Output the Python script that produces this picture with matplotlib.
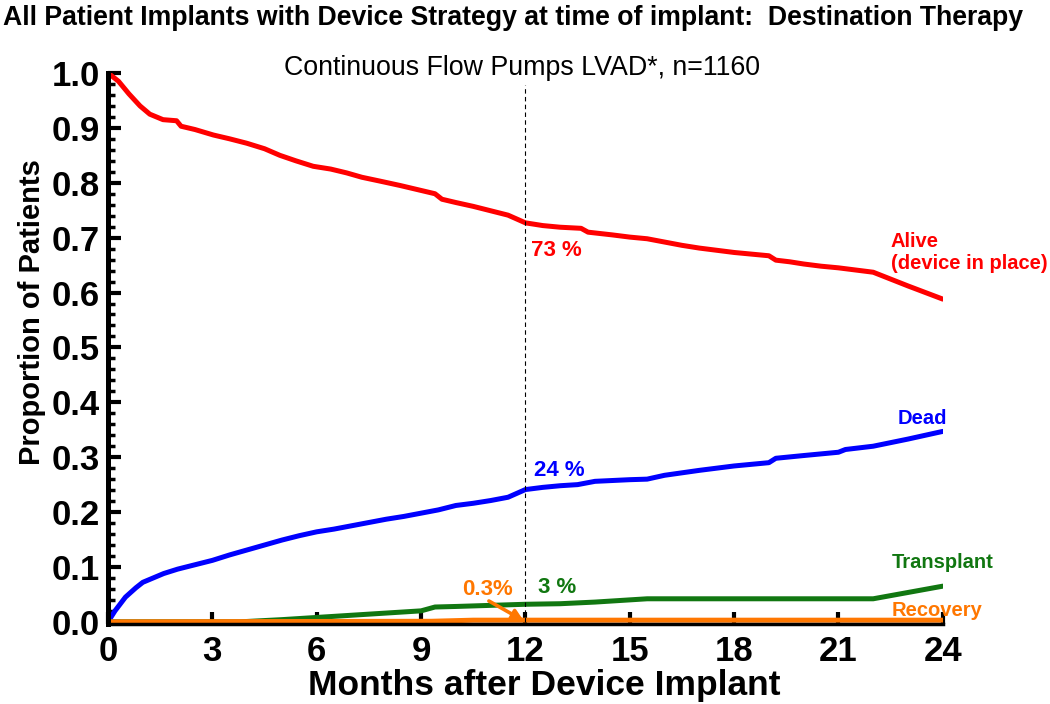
import numpy as np
import matplotlib.pyplot as plt
from matplotlib.ticker import MultipleLocator

plt.rcParams['font.family'] = ['Liberation Sans', 'DejaVu Sans']

# months after implant and proportions
alive_t = [0, 0.3, 0.6, 0.92, 1.2, 1.58, 1.97, 2.1, 2.5, 3.03, 3.5, 3.99, 4.5, 4.94, 5.4, 5.9,
           6.4, 6.86, 7.3, 7.82, 8.4, 9.0, 9.4, 9.6, 10.0, 10.5, 11.0, 11.5, 12.0, 12.5, 13.0,
           13.6, 13.8, 14.5, 15.0, 15.5, 16.0, 16.5, 17.0, 17.5, 18.0, 18.5, 19.0, 19.2,
           19.6, 20.0, 20.5, 21.0, 21.5, 22.0, 23.0, 24.0]
alive_v = [1.0, 0.985, 0.962, 0.940, 0.925, 0.915, 0.913, 0.903, 0.897, 0.887, 0.880, 0.872,
           0.862, 0.850, 0.840, 0.830, 0.825, 0.818, 0.810, 0.803, 0.795, 0.786, 0.780, 0.770,
           0.764, 0.757, 0.749, 0.741, 0.727, 0.722, 0.719, 0.717, 0.710, 0.705, 0.701, 0.698,
           0.692, 0.686, 0.681, 0.677, 0.673, 0.670, 0.667, 0.659, 0.656, 0.652, 0.648, 0.645,
           0.641, 0.637, 0.612, 0.588]

dead_t = [0, 0.2, 0.5, 0.8, 1.0, 1.3, 1.6, 2.0, 2.5, 3.0, 3.5, 4.0, 4.5, 5.0, 5.5, 6.0, 6.5,
          7.0, 7.5, 8.0, 8.5, 9.0, 9.5, 10.0, 10.5, 11.0, 11.5, 12.0, 12.5, 13.0, 13.5, 14.0,
          15.0, 15.5, 16.0, 17.0, 18.0, 19.0, 19.2, 20.0, 21.0, 21.2, 22.0, 23.0, 24.0]
dead_v = [0.0, 0.02, 0.045, 0.062, 0.072, 0.08, 0.088, 0.096, 0.104, 0.112, 0.122, 0.131,
          0.140, 0.149, 0.157, 0.164, 0.169, 0.175, 0.181, 0.187, 0.192, 0.198, 0.204, 0.212,
          0.216, 0.221, 0.227, 0.241, 0.245, 0.248, 0.250, 0.256, 0.259, 0.260, 0.267, 0.276,
          0.284, 0.290, 0.298, 0.303, 0.309, 0.314, 0.320, 0.333, 0.347]

transplant_t = [0, 3.8, 5.0, 6.0, 7.0, 8.0, 9.0, 9.4, 10.0, 11.0, 12.0, 13.0, 14.0, 15.0,
                15.5, 22.0, 24.0]
transplant_v = [0.0, 0.0, 0.004, 0.008, 0.012, 0.016, 0.020, 0.027, 0.028, 0.030, 0.032,
                0.033, 0.036, 0.040, 0.042, 0.042, 0.065]

recovery_t = [0, 9.3, 10.5, 24.0]
recovery_v = [0.0, 0.001, 0.003, 0.003]

red, blue, green, orange = '#ff0000', '#0000ff', '#117711', '#ff7700'

fig = plt.figure(figsize=(10.5, 7.04), dpi=100)
ax = fig.add_axes([0.1029, 0.1136, 0.795, 0.7827])

ax.plot(alive_t, alive_v, color=red, lw=3.6, solid_capstyle='round')
ax.plot(dead_t, dead_v, color=blue, lw=3.6, solid_capstyle='round')
ax.plot(transplant_t, transplant_v, color=green, lw=3.6, solid_capstyle='round')
ax.plot(recovery_t, recovery_v, color=orange, lw=3.6, solid_capstyle='round')
ax.plot([12, 12], [0, 0.978], color='black', lw=0.8, ls=(0, (4, 3)))

ax.set_xlim(0, 24)
ax.set_ylim(-0.004, 1.0)
ax.xaxis.set_major_locator(MultipleLocator(3))
ax.yaxis.set_minor_locator(MultipleLocator(0.02))
ax.set_yticks(np.arange(0, 1.01, 0.1))
ax.set_yticklabels(['%.1f' % v for v in np.arange(0, 1.01, 0.1)])
ax.tick_params(axis='both', which='major', direction='in', length=9, width=3,
               labelsize=25, pad=6)
ax.tick_params(axis='x', which='major', pad=8)
ax.tick_params(axis='y', which='minor', direction='in', length=5, width=2.5)
for lab in ax.get_xticklabels() + ax.get_yticklabels():
    lab.set_fontweight('bold')
ax.spines['top'].set_visible(False)
ax.spines['right'].set_visible(False)
ax.spines['left'].set_linewidth(3.6)
ax.spines['bottom'].set_linewidth(2.5)

ax.set_xlabel('Months after Device Implant', fontsize=25.5, fontweight='bold')
ax.xaxis.set_label_coords(0.522, -0.081)
ax.set_ylabel('Proportion of Patients', fontsize=21, fontweight='bold')
ax.yaxis.set_label_coords(-0.074, 0.566)

fig.text(0.003, 0.975, 'All Patient Implants with Device Strategy at time of implant:  Destination Therapy',
         fontsize=19.2, fontweight='bold', va='center', ha='left')
fig.text(0.497, 0.903, 'Continuous Flow Pumps LVAD*, n=1160', fontsize=19.3, va='center', ha='center')

ax.text(12.15, 0.676, '73 %', color=red, fontsize=16, fontweight='bold', va='center')
ax.text(12.25, 0.276, '24 %', color=blue, fontsize=16, fontweight='bold', va='center')
ax.text(12.35, 0.062, '3 %', color=green, fontsize=16, fontweight='bold', va='center')
ax.text(10.92, 0.058, '0.3%', color=orange, fontsize=16, fontweight='bold', va='center', ha='center')
ax.annotate('', xy=(11.95, 0.002), xytext=(10.95, 0.038),
            arrowprops=dict(arrowstyle='-|>', color=orange, lw=2.6, mutation_scale=16,
                            shrinkA=0, shrinkB=0))
ax.text(22.5, 0.673, 'Alive\n(device in place)', color=red, fontsize=14.5, fontweight='bold',
        va='center', ha='left', linespacing=1.15)
ax.text(22.7, 0.37, 'Dead', color=blue, fontsize=14.5, fontweight='bold', va='center')
ax.text(22.52, 0.109, 'Transplant', color=green, fontsize=14.5, fontweight='bold', va='center')
ax.text(22.52, 0.02, 'Recovery', color=orange, fontsize=14.5, fontweight='bold', va='center')

fig.savefig('out.png', dpi=100)
